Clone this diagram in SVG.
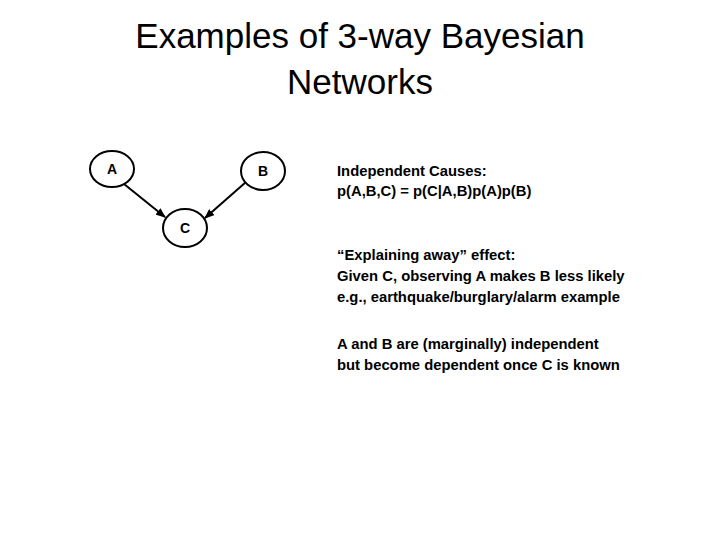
<svg xmlns="http://www.w3.org/2000/svg" width="720" height="540" viewBox="0 0 720 540">
<style>
.t{font-family:"Liberation Sans",Arial,sans-serif;font-size:35px;fill:#000;text-anchor:middle}
.n{fill:#fff;stroke:#000;stroke-width:2}
.l{font-family:"Liberation Sans",Arial,sans-serif;font-size:14px;font-weight:bold;fill:#000;text-anchor:middle}
.b{font-family:"Liberation Sans",Arial,sans-serif;font-size:14.8px;font-weight:bold;fill:#000}
.e{stroke:#000;stroke-width:2;fill:none;marker-end:url(#ah)}
</style>
<defs><marker id="ah" markerWidth="10" markerHeight="8" refX="9" refY="4" orient="auto" markerUnits="userSpaceOnUse"><path d="M0,0L10,4L0,8z" fill="#000"/></marker></defs>
<rect width="720" height="540" fill="#fff"/>
<text class="t" x="360" y="48">Examples of 3-way Bayesian</text>
<text class="t" x="360" y="94">Networks</text>
<g id="connectors">
<line class="e" x1="124" y1="184" x2="165" y2="217"/>
<line class="e" x1="246" y1="182" x2="205" y2="218"/>
</g>
<g id="A"><ellipse class="n" cx="112" cy="169" rx="22" ry="18"/><text class="l" x="112" y="174">A</text></g>
<g id="B"><ellipse class="n" cx="263" cy="171" rx="22" ry="19"/><text class="l" x="263" y="176">B</text></g>
<g id="C"><ellipse class="n" cx="185" cy="228" rx="22" ry="19"/><text class="l" x="185" y="233">C</text></g>
<g id="notes">
<text class="b" x="337" y="176">Independent Causes:</text>
<text class="b" x="337" y="196">p(A,B,C) = p(C|A,B)p(A)p(B)</text>
<text class="b" x="337" y="260">“Explaining away” effect:</text>
<text class="b" x="337" y="281">Given C, observing A makes B less likely</text>
<text class="b" x="337" y="302">e.g., earthquake/burglary/alarm example</text>
<text class="b" x="337" y="349">A and B are (marginally) independent</text>
<text class="b" x="337" y="370">but become dependent once C is known</text>
</g>
</svg>
